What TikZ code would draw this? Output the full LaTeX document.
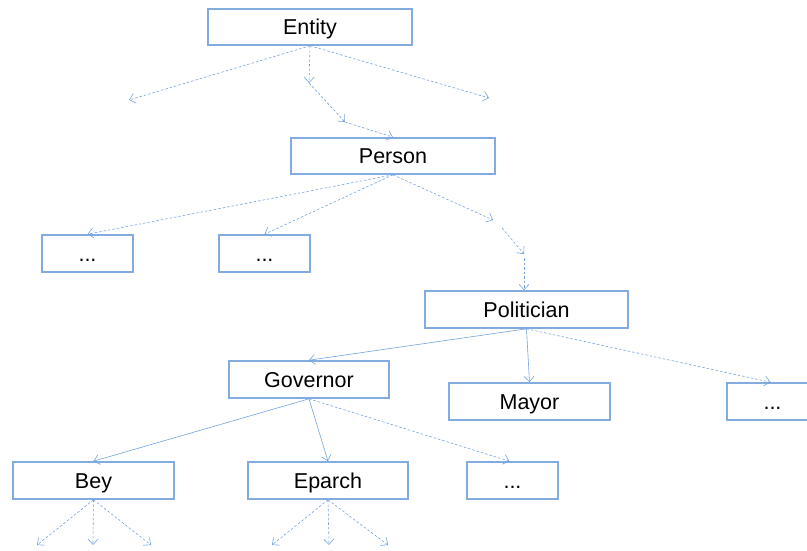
\documentclass[tikz,border=0pt]{standalone}
\usepackage{fontspec}
\setmainfont{Liberation Sans}
\usetikzlibrary{arrows.meta}
\definecolor{boxc}{RGB}{130,172,224}
\definecolor{linec}{RGB}{115,163,222}
\tikzset{
  cls/.style={draw=boxc, line width=1.6pt, fill=white, rectangle, inner sep=0pt,
    font=\fontsize{21.5}{25}\selectfont, text height=15.5pt, text depth=0pt},
  sub/.style={linec, line width=0.6pt, -{Straight Barb[length=5.5pt,width=10pt,line width=0.6pt]}},
  dsub/.style={sub, dash pattern=on 2.5pt off 2pt},
}
\begin{document}
\begin{tikzpicture}[x=1pt,y=-1pt]
\useasboundingbox (0,0) rectangle (807,550);
\node[cls, minimum width=204pt, minimum height=36pt] (entity) at (310,27) {Entity};
\node[cls, minimum width=204pt, minimum height=36pt] (person) at (393,156) {Person};
\node[cls, minimum width=91pt, minimum height=37pt] (d1) at (87.5,253.5) {...};
\node[cls, minimum width=91pt, minimum height=37pt] (d2) at (264.5,253.5) {...};
\node[cls, minimum width=203pt, minimum height=37pt] (politician) at (526.5,309.5) {Politician};
\node[cls, minimum width=160pt, minimum height=37pt] (governor) at (309,379.5) {Governor};
\node[cls, minimum width=161pt, minimum height=37pt] (mayor) at (529.5,401.5) {Mayor};
\node[cls, minimum width=91pt, minimum height=37pt] (d3) at (772.5,401.5) {...};
\node[cls, minimum width=161pt, minimum height=37pt] (bey) at (93.5,480.5) {Bey};
\node[cls, minimum width=160pt, minimum height=37pt] (eparch) at (328,480.5) {Eparch};
\node[cls, minimum width=91pt, minimum height=37pt] (d4) at (512.5,480.5) {...};
% free ends
\coordinate (e1) at (129,100);
\coordinate (e2) at (489,98);
\coordinate (e3) at (309,83);
\coordinate (e4) at (345,122);
\coordinate (p1) at (493,220);
\coordinate (p2) at (502,228);
\coordinate (p3) at (524,254);
\coordinate (p4) at (524,258);
\coordinate (b1) at (37,545);
\coordinate (b2) at (93,545);
\coordinate (b3) at (151,545);
\coordinate (q1) at (272,545);
\coordinate (q2) at (329,545);
\coordinate (q3) at (388,545);
% Entity
\draw[dsub] (entity.south) -- (e1);
\draw[dsub] (entity.south) -- (e2);
\draw[dsub] (entity.south) -- (e3);
\draw[dsub] (e3) -- (e4);
\draw[dsub] (e4) -- (person.north);
% Person
\draw[dsub] (person.south) -- (d1.north);
\draw[dsub] (person.south) -- (d2.north);
\draw[dsub] (person.south) -- (p1);
\draw[dsub] (p2) -- (p3);
\draw[dsub] (p4) -- (p4 |- politician.north);
% Politician
\draw[sub] (politician.south) -- (governor.north);
\draw[sub] (politician.south) -- (mayor.north);
\draw[dsub] (politician.south) -- ([xshift=-2pt]d3.north);
% Governor
\draw[sub] (governor.south) -- (bey.north);
\draw[sub] (governor.south) -- (eparch.north);
\draw[dsub] (governor.south) -- ([xshift=-3pt]d4.north);
% Bey and Eparch
\draw[dsub] (bey.south) -- (b1);
\draw[dsub] (bey.south) -- (b2);
\draw[dsub] (bey.south) -- (b3);
\draw[dsub] (eparch.south) -- (q1);
\draw[dsub] (eparch.south) -- (q2);
\draw[dsub] (eparch.south) -- (q3);
\end{tikzpicture}
\end{document}
